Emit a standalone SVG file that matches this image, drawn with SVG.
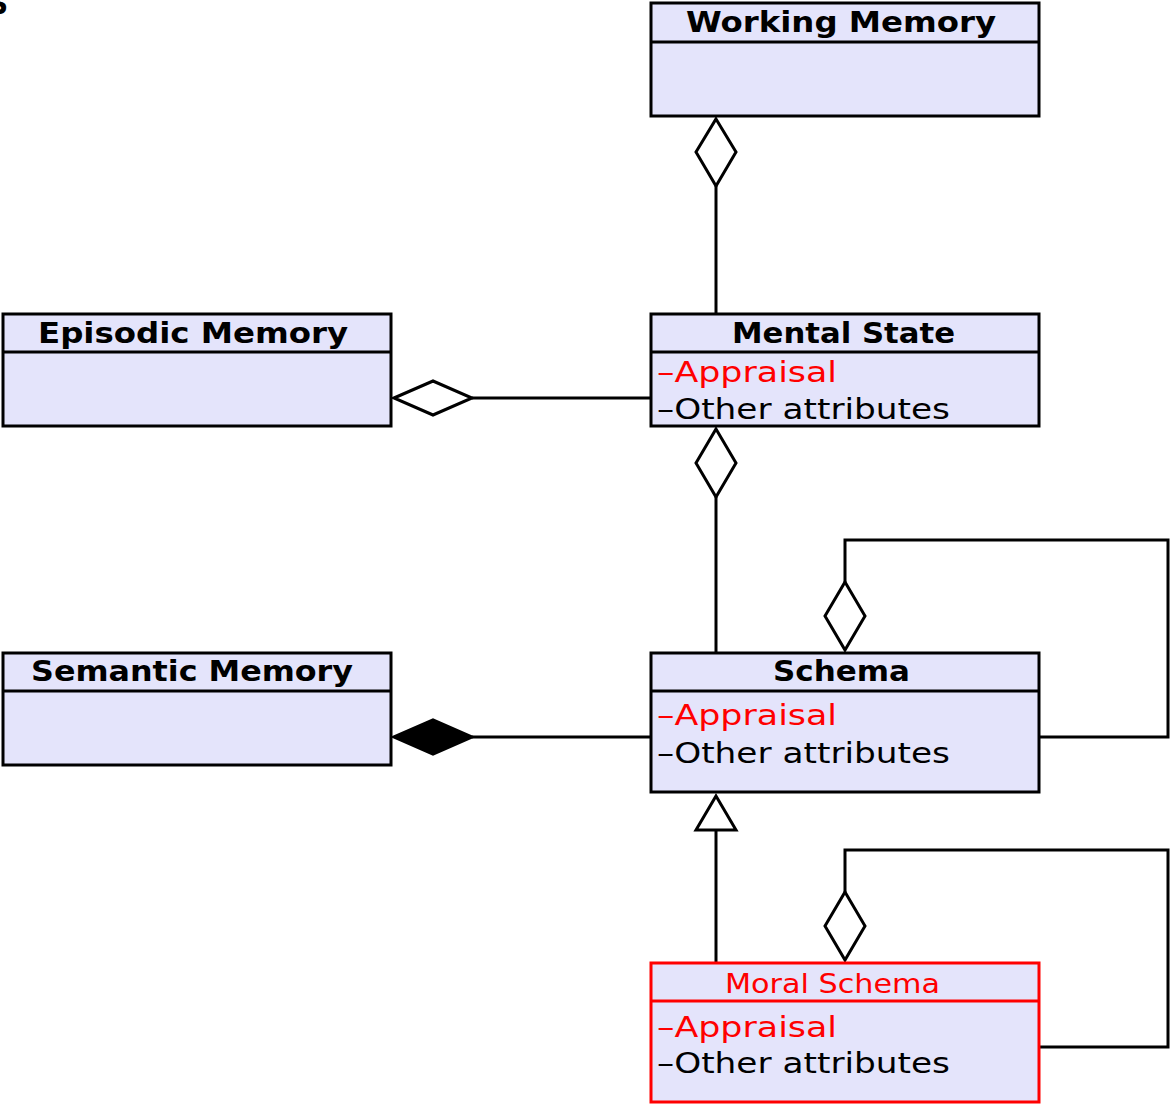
<svg xmlns="http://www.w3.org/2000/svg" width="1171" height="1105" viewBox="0 0 1171 1105">
  <style>
    .box { fill: #e4e4fb; stroke: #000; stroke-width: 3; }
    .box-red { fill: #e4e4fb; stroke: #ff0000; stroke-width: 3; }
    .div { stroke: #000; stroke-width: 3; }
    .div-red { stroke: #ff0000; stroke-width: 3; }
    .title { font-family: "DejaVu Sans", "Liberation Sans", sans-serif; font-weight: bold; font-size: 28px; fill: #000; }
    .title-red { font-family: "DejaVu Sans", "Liberation Sans", sans-serif; font-size: 27px; fill: #ff0000; }
    .attr { font-family: "DejaVu Sans", "Liberation Sans", sans-serif; font-size: 29px; fill: #000; }
    .attr-red { font-family: "DejaVu Sans", "Liberation Sans", sans-serif; font-size: 29px; fill: #ff0000; }
    .edge { fill: none; stroke: #000; stroke-width: 3; }
    .hollow { fill: #fff; stroke: #000; stroke-width: 3; stroke-linejoin: miter; }
    .solid { fill: #000; stroke: #000; stroke-width: 3; }
  </style>

  <!-- stray label fragment at the top-left corner -->
  <text x="-12" y="14" class="title" font-size="30">S</text>

  <g id="connectors">
    <!-- Mental State aggregated by Working Memory -->
    <line class="edge" x1="716" y1="186" x2="716" y2="314"/>
    <polygon class="hollow" points="716,119 736,152 716,186 696,152"/>

    <!-- Mental State aggregated by Episodic Memory -->
    <line class="edge" x1="472" y1="398" x2="651" y2="398"/>
    <polygon class="hollow" points="394,398 433,381 472,398 433,415"/>

    <!-- Schema aggregated by Mental State -->
    <line class="edge" x1="716" y1="497" x2="716" y2="653"/>
    <polygon class="hollow" points="716,429 736,463 716,497 696,463"/>

    <!-- Schema composed into Semantic Memory -->
    <line class="edge" x1="472" y1="737" x2="651" y2="737"/>
    <polygon class="solid" points="394,737 433,720 472,737 433,754"/>

    <!-- Schema self-aggregation loop -->
    <polyline class="edge" points="1040,737 1168,737 1168,540 845,540 845,582"/>
    <polygon class="hollow" points="845,582 865,616 845,650 825,616"/>

    <!-- Moral Schema generalizes to Schema -->
    <line class="edge" x1="716" y1="830" x2="716" y2="963"/>
    <polygon class="hollow" points="716,796 736,830 696,830"/>

    <!-- Moral Schema self-aggregation loop -->
    <polyline class="edge" points="1040,1047 1168,1047 1168,850 845,850 845,892"/>
    <polygon class="hollow" points="845,892 865,926 845,960 825,926"/>
  </g>

  <g id="working-memory">
    <rect class="box" x="651" y="3" width="388" height="113"/>
    <line class="div" x1="651" y1="42" x2="1039" y2="42"/>
    <text class="title" x="686" y="32" textLength="310" lengthAdjust="spacingAndGlyphs">Working Memory</text>
  </g>

  <g id="episodic-memory">
    <rect class="box" x="3" y="314" width="388" height="112"/>
    <line class="div" x1="3" y1="352" x2="391" y2="352"/>
    <text class="title" x="38" y="343" textLength="310" lengthAdjust="spacingAndGlyphs">Episodic Memory</text>
  </g>

  <g id="mental-state">
    <rect class="box" x="651" y="314" width="388" height="112"/>
    <line class="div" x1="651" y1="352" x2="1039" y2="352"/>
    <text class="title" x="732" y="343" textLength="223" lengthAdjust="spacingAndGlyphs">Mental State</text>
    <text class="attr-red" x="657" y="382" textLength="180" lengthAdjust="spacingAndGlyphs">–Appraisal</text>
    <text class="attr" x="657" y="419" textLength="293" lengthAdjust="spacingAndGlyphs">–Other attributes</text>
  </g>

  <g id="semantic-memory">
    <rect class="box" x="3" y="653" width="388" height="112"/>
    <line class="div" x1="3" y1="691" x2="391" y2="691"/>
    <text class="title" x="31" y="681" textLength="322" lengthAdjust="spacingAndGlyphs">Semantic Memory</text>
  </g>

  <g id="schema">
    <rect class="box" x="651" y="653" width="388" height="139"/>
    <line class="div" x1="651" y1="691" x2="1039" y2="691"/>
    <text class="title" x="773" y="681" textLength="137" lengthAdjust="spacingAndGlyphs">Schema</text>
    <text class="attr-red" x="657" y="725" textLength="180" lengthAdjust="spacingAndGlyphs">–Appraisal</text>
    <text class="attr" x="657" y="763" textLength="293" lengthAdjust="spacingAndGlyphs">–Other attributes</text>
  </g>

  <g id="moral-schema">
    <rect class="box-red" x="651" y="963" width="388" height="139"/>
    <line class="div-red" x1="651" y1="1001" x2="1039" y2="1001"/>
    <text class="title-red" x="725" y="993" textLength="215" lengthAdjust="spacingAndGlyphs">Moral Schema</text>
    <text class="attr-red" x="657" y="1037" textLength="180" lengthAdjust="spacingAndGlyphs">–Appraisal</text>
    <text class="attr" x="657" y="1073" textLength="293" lengthAdjust="spacingAndGlyphs">–Other attributes</text>
  </g>
</svg>
